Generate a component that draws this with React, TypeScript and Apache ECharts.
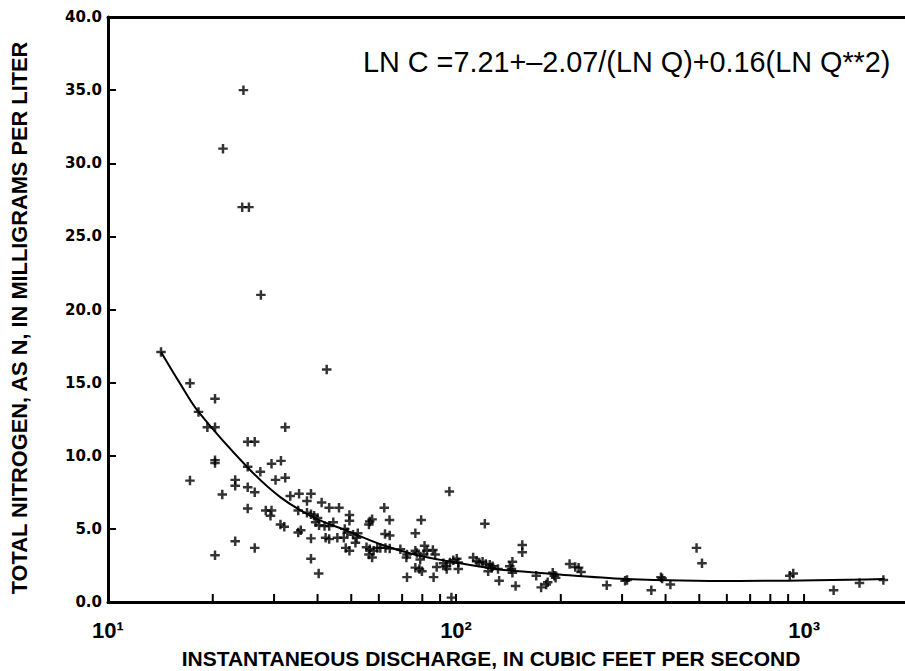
import React, { useEffect, useRef } from 'react';
import * as echarts from 'echarts';

// Scatter observations: instantaneous discharge (cfs) and total nitrogen (mg/L)
const discharge = [
  24.5, 21.4, 24.3, 25.4, 27.5, 42.5,
  14.2, 17.2, 18.2, 19.3, 20.3, 20.3, 20.3, 20.3, 17.2, 20.3, 21.3, 23.2, 23.2, 23.2,
  25.2, 26.4, 25.2, 25.2, 25.2, 26.4, 26.4, 27.4, 29.5, 30.3, 31.4, 32.3, 32.3, 33.4,
  28.4, 29.5, 29.3, 31.3, 32.1, 35.4, 35.2, 35.2, 35.8, 37.3, 38.3, 38.3, 38.3, 40.3,
  41.1, 43.2, 42.2, 43.2, 45.6, 46.1, 44.4, 37.3, 38.3, 39.1, 40.0, 39.5, 40.4, 41.9, 43.2,
  49.4, 49.4, 56.5, 57.4, 56.2, 62.2, 64.4, 79.4, 76.4, 95.7,
  47.9, 48.7, 47.6, 50.6, 51.8, 51.4, 52.2, 48.2, 49.4,
  55.3, 56.5, 58.0, 56.2, 57.4, 59.4, 60.6, 62.7, 64.5, 62.5, 64.5,
  69.2, 72.3, 72.0, 76.4, 77.2, 81.2, 82.5, 80.7, 78.9, 85.8, 87.1,
  76.4, 78.5, 79.8, 72.3, 86.2, 88.0, 92.0, 94.0, 93.5, 96.1,
  98.2, 100.5, 101.5, 101.5, 97.0,
  121, 155, 155,
  112, 114.6, 116.6, 119.2, 121.8, 125, 127.4, 123.7, 126.4,
  132, 133, 142.7, 145.2, 145.2, 144.3, 148.3, 170, 175.6, 181.6, 183.4,
  189.6, 191.6, 193.3, 212, 220, 225, 228.7, 271, 306, 310, 364, 388, 391, 413,
  491, 509, 910, 931, 1216, 1443, 1690,
];
const nitrogen = [
  35.0, 31.0, 27.0, 27.0, 21.0, 15.9,
  17.1, 14.95, 13.0, 11.95, 11.95, 13.9, 9.7, 9.5, 8.3, 3.2, 7.35, 8.35, 7.95, 4.15,
  10.95, 10.95, 9.25, 7.85, 6.4, 7.5, 3.7, 8.9, 9.45, 8.35, 9.65, 8.5, 11.95, 7.25,
  6.25, 6.25, 5.9, 5.3, 5.15, 7.4, 6.25, 4.75, 4.9, 6.9, 7.4, 4.35, 2.95, 1.95,
  6.8, 6.45, 4.4, 4.3, 4.4, 6.45, 5.45, 6.1, 6.0, 5.9, 5.75, 5.45, 5.25, 5.2, 5.2,
  5.95, 5.55, 5.5, 5.65, 5.3, 6.45, 5.6, 5.6, 4.7, 7.55,
  5.0, 4.75, 4.4, 4.6, 4.4, 4.05, 4.7, 3.7, 3.5,
  3.75, 3.6, 3.5, 3.25, 3.05, 3.7, 3.7, 3.7, 3.65, 4.65, 4.55,
  3.6, 3.25, 3.05, 3.5, 3.35, 3.85, 3.5, 3.25, 2.9, 3.55, 3.25,
  2.35, 2.25, 2.1, 1.7, 1.7, 2.4, 2.65, 2.25, 2.45, 2.7,
  2.85, 2.95, 2.7, 2.25, 0.3,
  5.35, 3.9, 3.4,
  3.05, 2.8, 2.7, 2.75, 2.6, 2.55, 2.45, 2.1, 2.35,
  2.25, 1.45, 2.45, 2.75, 2.0, 2.25, 1.1, 1.8, 1.0, 1.2, 1.35,
  2.0, 1.8, 1.65, 2.6, 2.4, 2.35, 2.05, 1.15, 1.45, 1.5, 0.8, 1.7, 1.6, 1.2,
  3.7, 2.65, 1.8, 1.95, 0.8, 1.3, 1.5,
];

// Fitted regression curve
const curveDischarge = [14.2, 16.1, 18.2, 25.2, 31.4, 39.1, 48.7, 60.6, 75.5, 94.1, 132, 189, 308, 650, 1704];
const curveNitrogen = [17.1, 14.95, 13.0, 9.2, 7.14, 5.77, 4.86, 3.95, 3.27, 2.81, 2.24, 1.92, 1.58, 1.44, 1.58];

// Log-axis tick positions (drawn inside the plot)
const xTickValues = [20, 30, 40, 50, 60, 70, 80, 90, 100, 200, 300, 400, 500, 600, 700, 800, 900, 1000];
const xTickLabels: Record<number, string> = { 1: '10\u00B9', 2: '10\u00B2', 3: '10\u00B3' };

const yTitle = 'TOTAL NITROGEN, AS N, IN MILLIGRAMS PER LITER';
const xTitle = 'INSTANTANEOUS DISCHARGE, IN CUBIC FEET PER SECOND';
const equation = 'LN C =7.21+\u20132.07/(LN Q)+0.16(LN Q**2)';

const plusPath = 'path://M3.7,0H6.3V3.7H10V6.3H6.3V10H3.7V6.3H0V3.7H3.7Z';

export default function App() {
  const ref = useRef<HTMLDivElement>(null);
  useEffect(() => {
    const chart = echarts.init(ref.current!, null, { renderer: 'svg' });
    chart.setOption({
      animation: false,
      backgroundColor: '#ffffff',
      grid: { left: 108, right: 0, top: 17, bottom: 69, containLabel: false, outerBoundsMode: 'none' },
      xAxis: [
        {
          type: 'log',
          logBase: 10,
          min: 10,
          max: 1950,
          axisLine: { show: true, onZero: false, lineStyle: { color: '#000', width: 3 } },
          axisTick: { show: false },
          minorTick: { show: false },
          splitLine: { show: false },
          axisLabel: {
            margin: 17,
            color: '#000',
            fontSize: 22,
            fontFamily: '"Liberation Sans", Arial, sans-serif',
            fontWeight: 'bold',
            showMaxLabel: false,
            formatter: (v: number) => {
              const e = Math.log10(v);
              return Math.abs(e - Math.round(e)) < 1e-6 ? xTickLabels[Math.round(e)] || '' : '';
            },
          },
        },
        {
          type: 'log',
          logBase: 10,
          min: 10,
          max: 1950,
          position: 'top',
          axisLine: { show: true, onZero: false, lineStyle: { color: '#000', width: 3 } },
          axisTick: { show: false },
          axisLabel: { show: false },
          splitLine: { show: false },
        },
      ],
      yAxis: {
        type: 'value',
        min: 0,
        max: 40,
        interval: 5,
        axisLine: { show: true, lineStyle: { color: '#000', width: 3 } },
        axisTick: { show: true, inside: true, length: 8, lineStyle: { color: '#000', width: 2 } },
        splitLine: { show: false },
        axisLabel: {
          margin: 6,
          color: '#000',
          fontSize: 15,
          fontFamily: '"DejaVu Sans", sans-serif',
          fontWeight: 'bold',
          formatter: (v: number) => v.toFixed(1),
        },
      },
      graphic: [
        {
          type: 'text',
          x: 19,
          y: 318,
          rotation: Math.PI / 2,
          style: {
            text: yTitle,
            fill: '#000',
            fontSize: 21.8,
            fontWeight: 'bold',
            fontFamily: '"Liberation Sans", Arial, sans-serif',
            align: 'center',
            verticalAlign: 'middle',
          },
        },
        {
          type: 'text',
          x: 491,
          y: 658,
          style: {
            text: xTitle,
            fill: '#000',
            fontSize: 21,
            fontWeight: 'bold',
            fontFamily: '"Liberation Sans", Arial, sans-serif',
            align: 'center',
            verticalAlign: 'middle',
          },
        },
        {
          type: 'text',
          x: 363,
          y: 62,
          style: {
            text: equation,
            fill: '#000',
            fontSize: 28.8,
            fontFamily: '"Liberation Sans", Arial, sans-serif',
            align: 'left',
            verticalAlign: 'middle',
          },
        },
      ],
      series: [
        {
          type: 'custom',
          xAxisIndex: 0,
          yAxisIndex: 0,
          silent: true,
          clip: false,
          data: xTickValues.map((v) => [v, 0]),
          renderItem: (params: any, api: any) => {
            const p = api.coord([api.value(0), 0]);
            return {
              type: 'line',
              shape: { x1: p[0], y1: p[1], x2: p[0], y2: p[1] - 8 },
              style: { stroke: '#000', lineWidth: 2 },
            };
          },
        },
        {
          type: 'line',
          xAxisIndex: 0,
          yAxisIndex: 0,
          silent: true,
          smooth: 0.35,
          showSymbol: false,
          lineStyle: { color: '#000', width: 2 },
          data: curveDischarge.map((q, i) => [q, curveNitrogen[i]]),
        },
        {
          type: 'scatter',
          xAxisIndex: 0,
          yAxisIndex: 0,
          symbol: plusPath,
          symbolSize: 9.5,
          itemStyle: { color: '#000' },
          data: discharge.map((q, i) => [q, nitrogen[i]]),
        },
      ],
    });
    return () => chart.dispose();
  }, []);
  return <div ref={ref} style={{ position: 'fixed', left: 0, top: 0, width: 905, height: 671 }} />;
}
